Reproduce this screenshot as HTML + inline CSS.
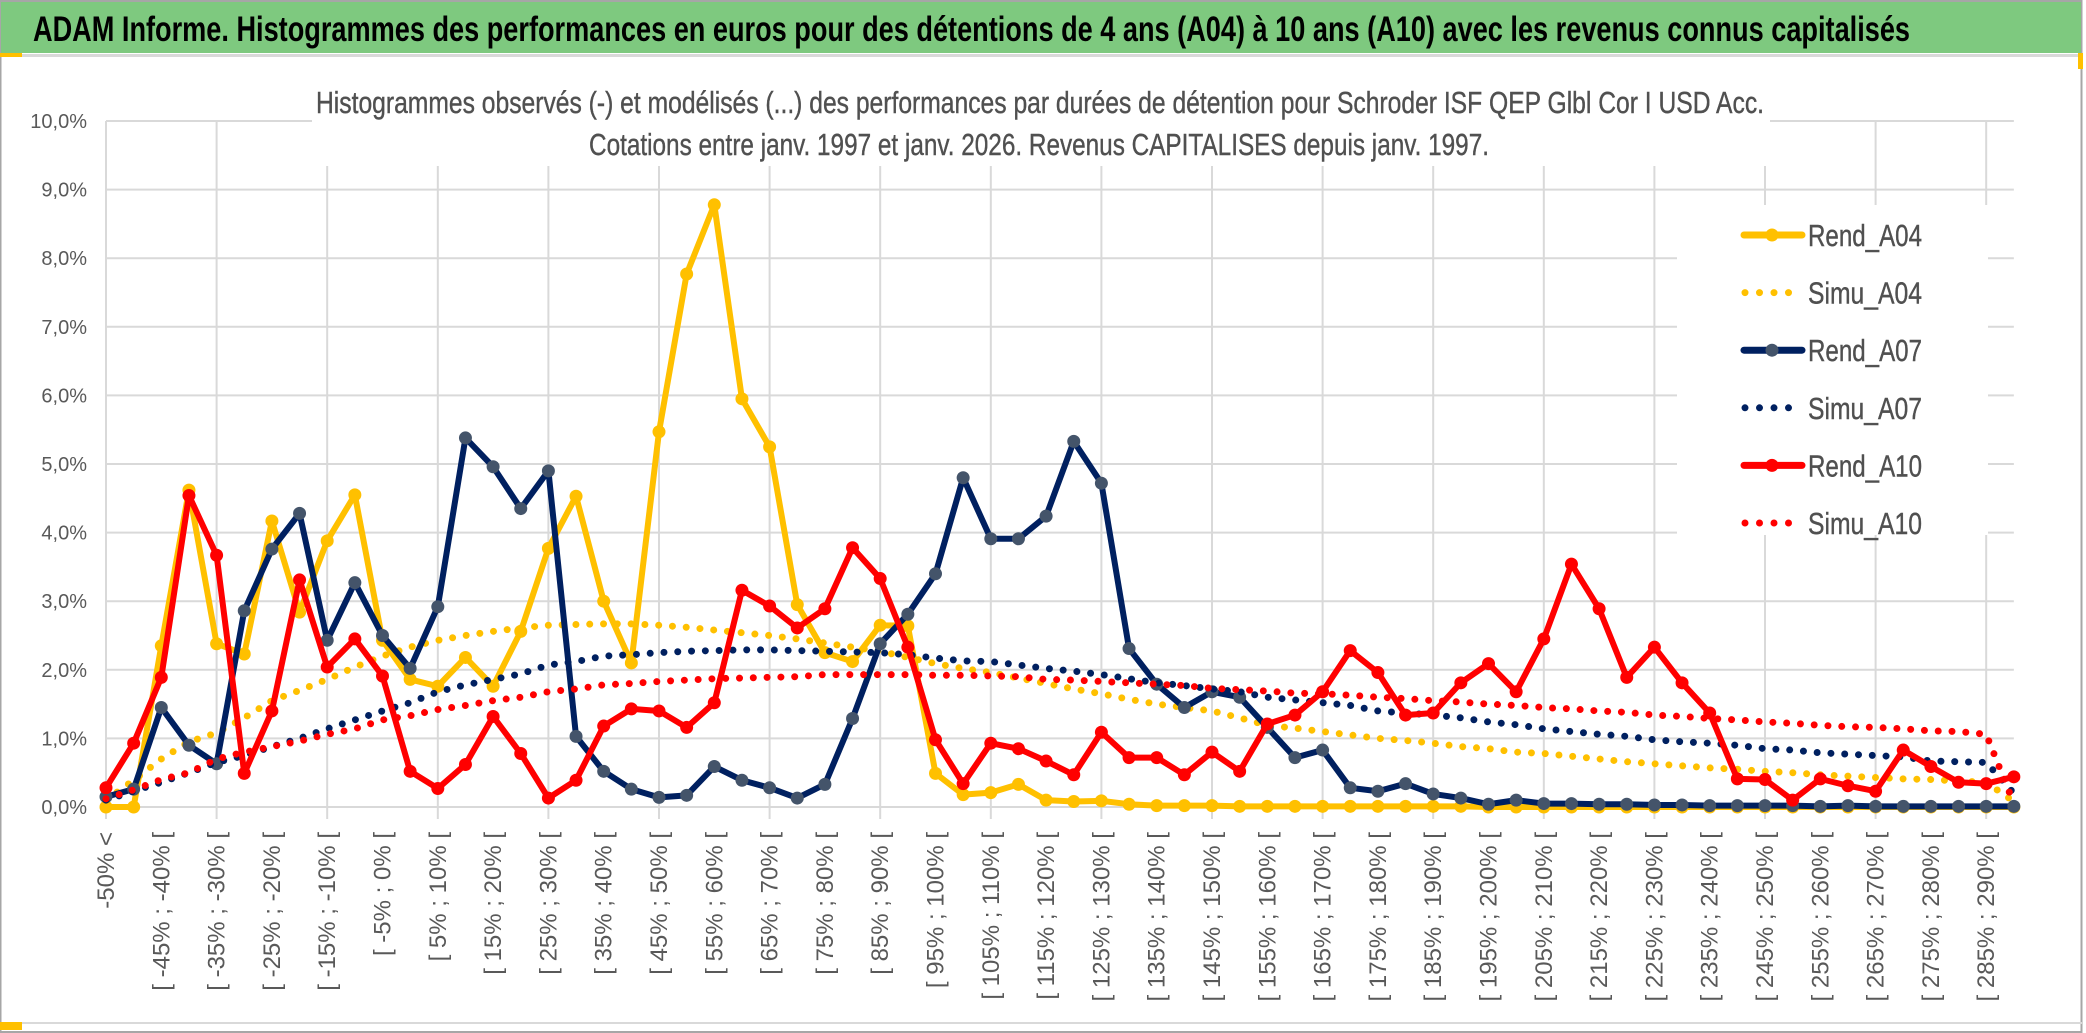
<!DOCTYPE html>
<html><head><meta charset="utf-8">
<style>
html,body{margin:0;padding:0;background:#fff;}
svg{display:block;}
text{font-family:"Liberation Sans",sans-serif;}
</style></head>
<body>
<svg id="chart" width="2086" height="1033" viewBox="0 0 2086 1033" xmlns="http://www.w3.org/2000/svg">
  <rect x="0" y="0" width="2086" height="1033" fill="#fff"/>
  <rect x="0.5" y="1" width="2081" height="1031" fill="none" stroke="#a6a6a6" stroke-width="2"/>
  <rect x="1" y="2" width="2080" height="51" fill="#7ec97f"/>
  <text x="33" y="41" font-size="35" font-weight="bold" fill="#000" textLength="1877" lengthAdjust="spacingAndGlyphs">ADAM Informe. Histogrammes des performances en euros pour des détentions de 4 ans (A04) à 10 ans (A10) avec les revenus connus capitalisés</text>
  <rect x="0" y="54" width="2082" height="3" fill="#d9d9d9"/>
  <rect x="0" y="53" width="22" height="4" fill="#ffc000"/>
  <rect x="2078" y="53" width="5" height="16" fill="#ffc000"/>
  <rect x="0" y="1022" width="2082" height="2" fill="#d9d9d9"/>
  <rect x="0" y="1022" width="22" height="8" fill="#ffc000"/>
  <g id="grid"></g>
  <rect x="312" y="78" width="1458" height="88" fill="#fff"/>
  <text x="316" y="113" font-size="31" fill="#505050" stroke="#505050" stroke-width="0.4" textLength="1448" lengthAdjust="spacingAndGlyphs">Histogrammes observés (-) et modélisés (...) des performances par durées de détention pour Schroder ISF QEP Glbl Cor I USD Acc.</text>
  <text x="589" y="155" font-size="31" fill="#505050" stroke="#505050" stroke-width="0.4" textLength="900" lengthAdjust="spacingAndGlyphs">Cotations entre janv. 1997 et janv. 2026. Revenus CAPITALISES depuis janv. 1997.</text>
  <rect x="1677" y="205" width="311" height="330" fill="#fff"/>
  <g id="yaxis"></g>
  <g id="xaxis"></g>
  <g id="series"></g>
  <g id="legend"></g>
</svg>
<script>
const categories = ["-50% <"];
for (let k = 1; k < 70; k++) { const lo = -50 + 5 * (k - 1); categories.push("[ " + lo + "% ; " + (lo + 5) + "% ["); }
const yTicks = [0,1,2,3,4,5,6,7,8,9,10];
const yTickLabels = ["0,0%","1,0%","2,0%","3,0%","4,0%","5,0%","6,0%","7,0%","8,0%","9,0%","10,0%"];
const seriesNames = ["Rend_A04","Simu_A04","Rend_A07","Simu_A07","Rend_A10","Simu_A10"];
const rendA04 = [0,0,2.35,4.62,2.38,2.23,4.17,2.84,3.88,4.55,
 2.43,1.86,1.76,2.18,1.76,2.56,3.77,4.53,3.0,2.1,
 5.47,7.77,8.78,5.95,5.25,2.95,2.25,2.12,2.65,2.64,
 0.49,0.18,0.21,0.33,0.1,0.08,0.09,0.04,0.02,0.02,
 0.02,0.01,0.01,0.01,0.01,0.01,0.01,0.01,0.01,0.01,
 0,0,0,0,0,0,0,0,0,0,
 0,0,0,0,0,0,0,0,0,0];
const simuA04 = [0.1,0.39,0.7,0.95,1.08,1.3,1.55,1.7,1.86,2.04,
 2.2,2.33,2.43,2.5,2.56,2.61,2.65,2.66,2.67,2.67,
 2.65,2.62,2.58,2.54,2.5,2.45,2.39,2.33,2.27,2.18,
 2.09,2.02,1.96,1.88,1.8,1.72,1.65,1.57,1.5,1.45,
 1.4,1.3,1.19,1.15,1.1,1.05,1.0,0.97,0.93,0.88,
 0.85,0.8,0.78,0.74,0.7,0.66,0.63,0.6,0.57,0.55,
 0.52,0.5,0.47,0.45,0.43,0.41,0.4,0.38,0.36,0.08];
const rendA07 = [0.15,0.26,1.45,0.9,0.63,2.86,3.76,4.28,2.43,3.27,
 2.5,2.02,2.92,5.38,4.96,4.35,4.9,1.03,0.52,0.26,
 0.14,0.17,0.59,0.39,0.28,0.13,0.33,1.29,2.38,2.81,
 3.4,4.8,3.91,3.91,4.24,5.33,4.72,2.31,1.79,1.45,
 1.68,1.6,1.16,0.72,0.83,0.28,0.23,0.34,0.19,0.13,
 0.04,0.1,0.05,0.05,0.04,0.04,0.03,0.03,0.02,0.02,
 0.02,0.02,0.01,0.02,0.01,0.01,0.01,0.01,0.01,0.01];
const simuA07 = [0.1,0.23,0.36,0.5,0.65,0.75,0.88,1.0,1.14,1.27,
 1.4,1.52,1.68,1.78,1.86,1.94,2.07,2.12,2.2,2.22,
 2.25,2.27,2.28,2.29,2.29,2.28,2.27,2.26,2.25,2.22,
 2.17,2.13,2.12,2.07,2.02,1.98,1.93,1.87,1.81,1.77,
 1.72,1.68,1.6,1.56,1.52,1.48,1.4,1.37,1.34,1.3,
 1.24,1.2,1.14,1.1,1.06,1.03,0.98,0.95,0.93,0.9,
 0.85,0.83,0.79,0.77,0.75,0.73,0.67,0.66,0.65,0.2];
const rendA10 = [0.28,0.93,1.89,4.54,3.67,0.49,1.4,3.31,2.04,2.45,
 1.91,0.52,0.27,0.62,1.32,0.78,0.13,0.39,1.18,1.43,
 1.4,1.16,1.52,3.16,2.93,2.61,2.89,3.78,3.33,2.33,
 0.98,0.34,0.93,0.85,0.67,0.47,1.09,0.72,0.72,0.47,
 0.8,0.52,1.21,1.34,1.68,2.28,1.96,1.34,1.37,1.81,
 2.09,1.68,2.45,3.54,2.89,1.89,2.33,1.81,1.37,0.41,
 0.4,0.1,0.41,0.31,0.23,0.83,0.59,0.36,0.34,0.44];
const simuA10 = [0.12,0.25,0.4,0.5,0.7,0.8,0.88,0.96,1.06,1.14,
 1.27,1.33,1.42,1.48,1.55,1.6,1.68,1.72,1.78,1.8,
 1.83,1.85,1.87,1.88,1.89,1.9,1.93,1.93,1.93,1.93,
 1.92,1.92,1.91,1.9,1.86,1.85,1.83,1.81,1.79,1.77,
 1.73,1.71,1.69,1.66,1.65,1.63,1.6,1.58,1.55,1.53,
 1.5,1.48,1.45,1.43,1.4,1.38,1.34,1.32,1.29,1.27,
 1.24,1.22,1.19,1.17,1.16,1.14,1.11,1.1,1.06,0.05];

const NS = "http://www.w3.org/2000/svg";
const X0 = 106, DX = 27.65, Y0 = 807, DY = 68.6;
function xPos(i){ return X0 + i * DX; }
function yPos(v){ return Y0 - v * DY; }
function mk(tag, attrs, parent){ const e = document.createElementNS(NS, tag); for (const k in attrs) e.setAttribute(k, attrs[k]); parent.appendChild(e); return e; }

const grid = document.getElementById("grid");
const xEnd = xPos(categories.length - 1);
yTicks.forEach(function(t){
  const l = mk("line", {x1: X0, x2: xEnd, y1: yPos(t), y2: yPos(t), stroke: "#d9d9d9", "stroke-width": 2}, grid);
  
  
});
for (let i = 0; i < categories.length; i += 4) {
  const l = mk("line", {x1: xPos(i), x2: xPos(i), y1: yPos(10), y2: Y0 + 12, stroke: "#d9d9d9", "stroke-width": 2}, grid);
  
  
}

const yaxis = document.getElementById("yaxis");
yTicks.forEach(function(t, k){
  const tx = mk("text", {x: 87, y: yPos(t) + 7, "font-size": 20, fill: "#595959", "text-anchor": "end"}, yaxis);
  tx.textContent = yTickLabels[k];
  
  
});

const xaxis = document.getElementById("xaxis");
categories.forEach(function(c, i){
  if (i % 2 !== 0) return;
  const x = xPos(i) + 8, y = 832;
  const tx = mk("text", {x: x, y: y, "font-size": 24, fill: "#595959", "text-anchor": "end", transform: "rotate(-90 " + x + " " + y + ")"}, xaxis);
  tx.textContent = c;
  
  
});

const series = document.getElementById("series");
function drawRend(vals, color, marker, name){
  const pts = vals.map(function(v, i){ return xPos(i) + "," + yPos(v); }).join(" ");
  const pl = mk("polyline", {points: pts, fill: "none", stroke: color, "stroke-width": 6, "stroke-linejoin": "round"}, series);
  
  
  vals.forEach(function(v, i){
    const c = mk("circle", {cx: xPos(i), cy: yPos(v), r: 6.5, fill: marker}, series);
    
    
  });
}
function drawSimu(vals, color, name){
  const pts = vals.map(function(v, i){ return xPos(i) + "," + yPos(v); }).join(" ");
  const pl = mk("polyline", {points: pts, fill: "none", stroke: color, "stroke-width": 7, "stroke-linecap": "round", "stroke-dasharray": "0 13.8"}, series);
  
  
}
drawRend(rendA04, "#ffc000", "#ffc000", "rend-a04");
drawSimu(simuA04, "#ffc000", "simu-a04");
drawRend(rendA07, "#002060", "#44546a", "rend-a07");
drawSimu(simuA07, "#002060", "simu-a07");
drawRend(rendA10, "#ff0000", "#ff0000", "rend-a10");
drawSimu(simuA10, "#ff0000", "simu-a10");

const legend = document.getElementById("legend");
const legColors = ["#ffc000","#ffc000","#002060","#002060","#ff0000","#ff0000"];
const legMarkers = ["#ffc000",null,"#44546a",null,"#ff0000",null];
seriesNames.forEach(function(n, k){
  const y = 235 + k * 57.6;
  const g = mk("g", {}, legend);
  
  
  if (legMarkers[k]) {
    mk("line", {x1: 1744, x2: 1802, y1: y, y2: y, stroke: legColors[k], "stroke-width": 7, "stroke-linecap": "round"}, g);
    mk("circle", {cx: 1772, cy: y, r: 6.5, fill: legMarkers[k]}, g);
  } else {
    mk("line", {x1: 1745, x2: 1803, y1: y, y2: y, stroke: legColors[k], "stroke-width": 7, "stroke-linecap": "round", "stroke-dasharray": "0 14.5"}, g);
  }
  const tx = mk("text", {x: 1808, y: y + 11, "font-size": 31, fill: "#505050", stroke: "#505050", "stroke-width": 0.4, textLength: 114, lengthAdjust: "spacingAndGlyphs"}, g);
  tx.textContent = n;
});
</script>
</body></html>
